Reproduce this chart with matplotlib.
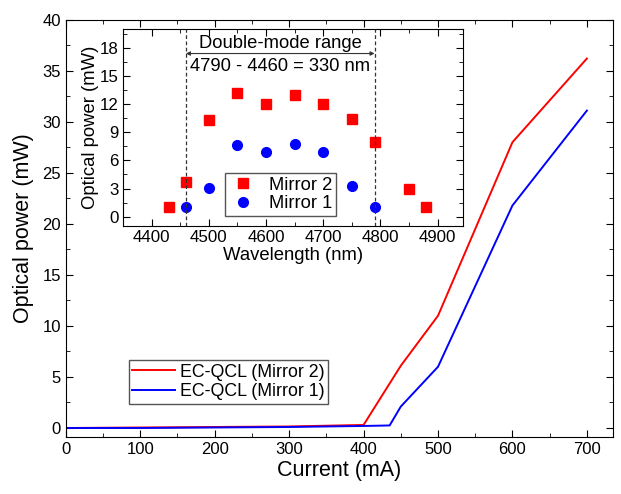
import matplotlib.pyplot as plt
from matplotlib.ticker import MultipleLocator

plt.rcParams['font.family'] = ['Liberation Sans', 'DejaVu Sans']

# main curves
current_m2 = [0, 100, 200, 300, 400, 450, 500, 600, 700]
power_m2 = [0.0, 0.05, 0.1, 0.15, 0.3, 6.1, 11.0, 28.0, 36.2]
current_m1 = [0, 100, 200, 300, 400, 435, 450, 500, 600, 700]
power_m1 = [0.0, 0.0, 0.05, 0.1, 0.2, 0.25, 2.1, 6.0, 21.8, 31.1]

# inset spectra
wl_m2 = [4430, 4460, 4500, 4550, 4600, 4650, 4700, 4750, 4790, 4850, 4880]
p_m2 = [1.0, 3.7, 10.3, 13.2, 12.0, 13.0, 12.0, 10.4, 8.0, 3.0, 1.0]
wl_m1 = [4460, 4500, 4550, 4600, 4650, 4700, 4750, 4790]
p_m1 = [1.0, 3.1, 7.6, 6.9, 7.8, 6.9, 3.3, 1.0]
range_lo, range_hi = 4460, 4790

fig = plt.figure(figsize=(6.21, 4.94), dpi=100)
ax = fig.add_axes([0.106, 0.115, 0.881, 0.845])
ax.plot(current_m2, power_m2, color='red', lw=1.4, label='EC-QCL (Mirror 2)')
ax.plot(current_m1, power_m1, color='blue', lw=1.4, label='EC-QCL (Mirror 1)')
ax.set_xlim(0, 735)
ax.set_ylim(-0.9, 40)
ax.xaxis.set_major_locator(MultipleLocator(100))
ax.xaxis.set_minor_locator(MultipleLocator(50))
ax.yaxis.set_major_locator(MultipleLocator(5))
ax.yaxis.set_minor_locator(MultipleLocator(2.5))
ax.tick_params(which='both', direction='in', top=True, right=True, labelsize=12)
ax.tick_params(which='major', length=5)
ax.tick_params(which='minor', length=3)
ax.set_xlabel('Current (mA)', fontsize=15.5, labelpad=2)
ax.set_ylabel('Optical power (mW)', fontsize=15.5, labelpad=6)
ax.legend(loc='upper left', bbox_to_anchor=(0.115, 0.185), fontsize=12.8,
          fancybox=False, edgecolor='#555555', framealpha=1,
          handlelength=2.4, borderpad=0.2, labelspacing=0.15,
          handletextpad=0.3, borderaxespad=0)

ins = fig.add_axes([0.198, 0.5425, 0.548, 0.3985])
ins.plot(wl_m2, p_m2, 's', color='red', ms=6.5, ls='none', label='Mirror 2')
ins.plot(wl_m1, p_m1, 'o', color='blue', ms=7, ls='none', label='Mirror 1')
ins.set_xlim(4350, 4945)
ins.set_ylim(-1, 20)
ins.axvline(range_lo, color='#333333', ls='--', lw=0.9, dashes=(3, 2))
ins.axvline(range_hi, color='#333333', ls='--', lw=0.9, dashes=(3, 2))
ins.annotate('', xy=(range_lo, 17.4), xytext=(range_hi, 17.4),
             arrowprops=dict(arrowstyle='<|-|>', color='#333333', lw=0.8,
                             mutation_scale=6, shrinkA=0, shrinkB=0))
mid = (range_lo + range_hi) / 2
ins.text(mid, 17.6, 'Double-mode range', ha='center', va='bottom', fontsize=13.2)
ins.text(mid, 16.9, f'{range_hi} - {range_lo} = {range_hi - range_lo} nm',
         ha='center', va='top', fontsize=13.2)
ins.xaxis.set_major_locator(MultipleLocator(100))
ins.xaxis.set_minor_locator(MultipleLocator(50))
ins.yaxis.set_major_locator(MultipleLocator(3))
ins.yaxis.set_minor_locator(MultipleLocator(1.5))
ins.tick_params(which='both', direction='in', top=True, right=True, labelsize=12.2, pad=3)
ins.tick_params(which='major', length=5)
ins.tick_params(which='minor', length=3)
ins.set_xlabel('Wavelength (nm)', fontsize=13.3, labelpad=1)
ins.set_ylabel('Optical power (mW)', fontsize=13.3, labelpad=1)
ins.legend(loc='upper left', bbox_to_anchor=(0.30, 0.27), fontsize=13.2,
           fancybox=False, edgecolor='#555555', framealpha=1,
           borderpad=0.2, labelspacing=0.1, handletextpad=0.6,
           handlelength=1.6, borderaxespad=0)

fig.savefig('out.png', dpi=100)
